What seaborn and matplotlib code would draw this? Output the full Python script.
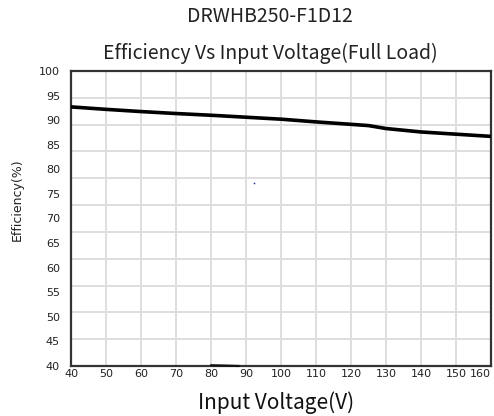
import matplotlib
matplotlib.use("Agg")
import matplotlib.pyplot as plt
import seaborn as sns
import numpy as np
import pandas as pd

# Data
voltage = [40, 50, 60, 70, 80, 90, 100, 110, 120, 125, 130, 140, 150, 160]
efficiency = [92.7, 92.2, 91.75, 91.35, 91.0, 90.6, 90.2, 89.65, 89.15, 88.9, 88.3, 87.6, 87.15, 86.7]
stray_x = [80, 84, 88]
stray_y = [40.15, 40.08, 40.0]
dot_x = [92.3]
dot_y = [77.3]
x_ticks = [40, 50, 60, 70, 80, 90, 100, 110, 120, 130, 140, 150, 160]
y_ticks = [40, 45, 50, 55, 60, 65, 70, 75, 80, 85, 90, 95, 100]

title1 = "DRWHB250-F1D12"
title2 = "Efficiency Vs Input Voltage(Full Load)"
xlabel = "Input Voltage(V)"
ylabel = "Efficiency(%)"

sns.set_theme(style="white")
plt.rcParams['font.family'] = ['DejaVu Sans']

df = pd.DataFrame({"V": voltage, "Eff": efficiency})

W, H = 494, 416
fig = plt.figure(figsize=(W / 100, H / 100), dpi=100)
L, R, T, B = 71, 491, 71, 366
ax = fig.add_axes([L / W, 1 - B / H, (R - L) / W, (B - T) / H])

sns.lineplot(data=df, x="V", y="Eff", ax=ax, color="#000000", linewidth=2.6, zorder=5)
ax.plot(stray_x, stray_y, color="#111111", linewidth=1.6, zorder=6, clip_on=False)
ax.scatter(dot_x, dot_y, s=1.5, color="#2233aa", zorder=6, linewidths=0)

ax.set_xlim(40, 160)
ax.set_ylim(40, 100)
ax.set_xticks(x_ticks)
ax.set_yticks(y_ticks)
ax.set_xticklabels([str(v) for v in x_ticks])
ax.set_yticklabels([str(v) for v in y_ticks])
ax.set_yticks(np.linspace(40, 100, 12), minor=True)

ax.grid(False)
ax.grid(True, axis="x", which="major", color="#dedede", linewidth=1.4)
ax.grid(True, axis="y", which="minor", color="#dedede", linewidth=1.4)
ax.set_axisbelow(True)

ax.tick_params(axis="both", which="both", length=0, labelsize=8, colors="#222222")
ax.tick_params(axis="x", pad=2)
ax.tick_params(axis="y", pad=8)
labels = ax.get_xticklabels()
labels[-1].set_ha("right")
labels[-1].set_x(160)

for s in ax.spines.values():
    s.set_color("#333333")
    s.set_linewidth(1.6)

ax.set_xlabel("")
ax.set_ylabel("")

cjk = ['Noto Sans CJK SC', 'DejaVu Sans']
fig.text(270 / W, 1 - 16 / H, title1, ha="center", va="center", fontsize=14, family=cjk,
         fontweight="light", color="#222222")
fig.text(270 / W, 1 - 53 / H, title2, ha="center", va="center", fontsize=14, family=cjk,
         fontweight="light", color="#222222")
fig.text(276 / W, 1 - 403 / H, xlabel, ha="center", va="center", fontsize=15, family=cjk,
         fontweight="light", color="#111111")
fig.text(17 / W, 1 - 200 / H, ylabel, ha="center", va="center", rotation=90, fontsize=9,
         color="#222222")

fig.savefig("out.png", dpi=100)
